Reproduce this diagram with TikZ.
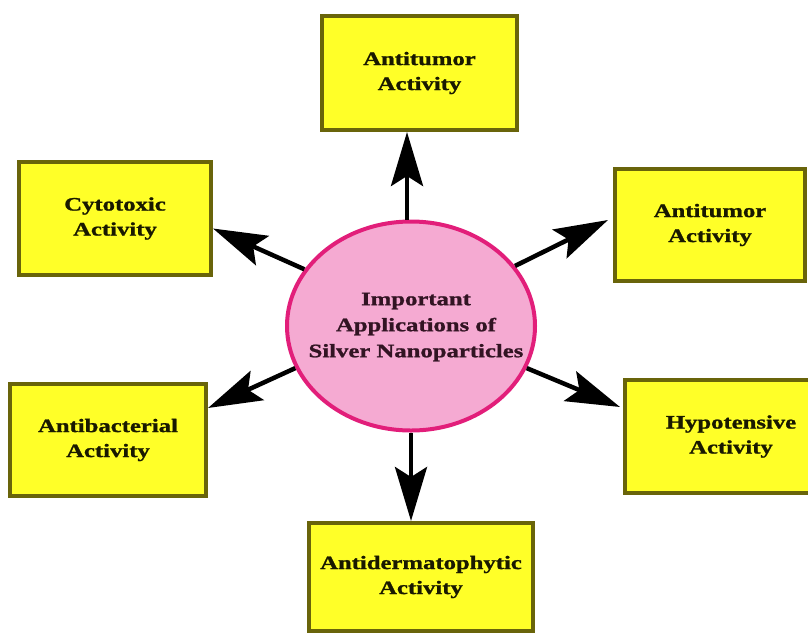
\documentclass[tikz,border=0pt]{standalone}
\usepackage{fontspec}
\setmainfont{Liberation Serif}[FakeStretch=1.3, BoldFeatures={FakeBold=1.2}]
\usetikzlibrary{shapes.geometric,arrows.meta}
\definecolor{boxfill}{RGB}{255,255,40}
\definecolor{boxline}{RGB}{105,100,10}
\definecolor{ellfill}{RGB}{245,170,210}
\definecolor{ellline}{RGB}{226,30,122}
\definecolor{ctext}{RGB}{50,20,35}
\definecolor{btext}{RGB}{25,25,0}
\begin{document}
\begin{tikzpicture}[x=1pt,y=-1pt,
  actbox/.style={rectangle, draw=boxline, fill=boxfill, line width=4pt, inner sep=0pt,
    align=center, font=\fontsize{19}{25}\selectfont\bfseries, text=btext},
  hub/.style={ellipse, draw=ellline, fill=ellfill, line width=4pt, inner sep=0pt,
    font=\fontsize{19}{26}\selectfont\bfseries, text=ctext},
  arr/.style={line width=4.5pt, draw=black, -{Stealth[length=54pt,width=32pt,inset=10pt]}}]
\useasboundingbox (0,0) rectangle (808,635);
\clip (0,0) rectangle (808,635);
\fill[white] (0,0) rectangle (808,635);

\node[hub, minimum width=248pt, minimum height=209pt] (c) at (411,326)
  {\raisebox{7pt}{\makebox[0pt]{\hspace*{10pt}\begin{tabular}{@{}c@{}}Important\\Applications of\\Silver Nanoparticles\end{tabular}}}};

\node[actbox, minimum width=195pt, minimum height=114pt] (ta) at (419.5,73) {Antitumor\\Activity};
\node[actbox, minimum width=192pt, minimum height=113pt] (cyt) at (115,218.5) {Cytotoxic\\Activity};
\node[actbox, minimum width=196pt, minimum height=112pt] (abac) at (108,440) {Antibacterial\\Activity};
\node[actbox, minimum width=190pt, minimum height=112pt] (rta) at (710,225) {Antitumor\\Activity};
\node[actbox, minimum width=212pt, minimum height=113pt] (hyp) at (731,436.5) {Hypotensive\\Activity};
\node[actbox, minimum width=224pt, minimum height=108pt] (bot) at (421,577) {Antidermatophytic\\Activity};

\draw[arr] ([xshift=-4pt]c.north) -- ([xshift=-4pt]c.north |- ta.south);
\draw[arr] (c.south) -- (c.south |- bot.north);
\draw[arr] (c.152) -- ([yshift=-10pt]cyt.east);
\draw[arr] (c.200) -- ([yshift=-26pt]abac.north east);
\draw[arr] (c.30) -- ([shift={(-5pt,5pt)}]rta.west);
\draw[arr] (c.340) -- ([shift={(-3pt,-29pt)}]hyp.north west);
\end{tikzpicture}
\end{document}
